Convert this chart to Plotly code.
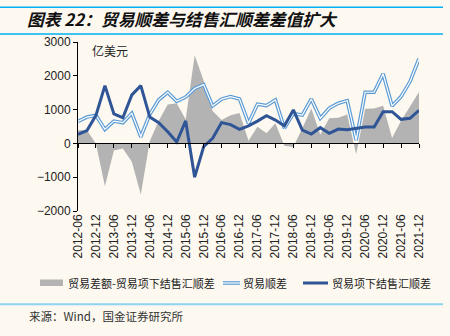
import plotly.graph_objects as go

# Quarter-end periods, 2012-06 .. 2021-12
quarters = [
    "2012-06", "2012-09", "2012-12", "2013-03", "2013-06", "2013-09", "2013-12", "2014-03",
    "2014-06", "2014-09", "2014-12", "2015-03", "2015-06", "2015-09", "2015-12", "2016-03",
    "2016-06", "2016-09", "2016-12", "2017-03", "2017-06", "2017-09", "2017-12", "2018-03",
    "2018-06", "2018-09", "2018-12", "2019-03", "2019-06", "2019-09", "2019-12", "2020-03",
    "2020-06", "2020-09", "2020-12", "2021-03", "2021-06", "2021-09", "2021-12",
]

# 贸易顺差 (亿美元)
trade_surplus = [
    650, 780, 830, 415, 660, 612, 890, 196, 860, 1290,
    1510, 1245, 1370, 1625, 1740, 1108, 1310, 1384, 1316, 594,
    1158, 1118, 1286, 445, 880, 840, 1316, 742, 1040, 1188,
    1265, 98, 1514, 1514, 2058, 1108, 1384, 1830, 2504,
]

# 贸易项下结售汇顺差 (亿美元)
fx_surplus = [
    270, 380, 830, 1710, 870, 760, 1435, 1710, 780, 610,
    345, 40, 665, -1000, -100, 150, 615, 555, 415, 517,
    660, 820, 690, 520, 990, 395, 276, 465, 297, 425,
    405, 435, 485, 485, 940, 940, 712, 742, 980,
]

# 贸易差额-贸易项下结售汇顺差 (亿美元)
gap = [
    390, 390, -10, -1270, -210, -150, -545, -1515, 70, 670,
    1150, 1190, 705, 2610, 1850, 960, 695, 830, 900, 75,
    495, 300, 595, -70, -110, 445, 1030, 265, 743, 760,
    855, -320, 1025, 1030, 1115, 160, 672, 1090, 1520,
]

series_names = ["贸易差额-贸易项下结售汇顺差", "贸易顺差", "贸易项下结售汇顺差"]
tick_labels = quarters[::2]
y_ticks = [-2000, -1000, 0, 1000, 2000, 3000]

idx = list(range(len(quarters)))
tick_idx = idx[::2]

W, H = 450, 336
ML, MR, MT, MB = 78, 31, 42, 125
PW, PH = W - ML - MR, H - MT - MB


def px(x):
    return (x - ML) / PW


def py(y):
    return (H - MB - y) / PH


BG = "#FDF9F0"
GRAY = "#B3B3B3"
LIGHT = "#5B9BD5"
DARK = "#2F5597"
LATIN = "Liberation Sans, Arial, Noto Sans CJK SC, sans-serif"
CJK = "Noto Sans CJK SC, Liberation Sans, sans-serif"

fig = go.Figure()

fig.add_trace(go.Scatter(
    x=idx, y=gap, mode="none", fill="tozeroy", fillcolor=GRAY,
    name=series_names[0], hoverinfo="skip",
))
fig.add_trace(go.Scatter(
    x=idx, y=trade_surplus, mode="lines", name=series_names[1],
    line=dict(color=LIGHT, width=3.6), hoverinfo="skip",
))
fig.add_trace(go.Scatter(
    x=idx, y=trade_surplus, mode="lines",
    line=dict(color="#FFFFFF", width=1.2), hoverinfo="skip",
))
fig.add_trace(go.Scatter(
    x=idx, y=fx_surplus, mode="lines", name=series_names[2],
    line=dict(color=DARK, width=3), hoverinfo="skip",
))
# carrier for the category axis drawn along y = 0
fig.add_trace(go.Scatter(
    x=[idx[0], idx[-1]], y=[0, 0], xaxis="x2", mode="lines",
    line=dict(width=0), opacity=0, hoverinfo="skip",
))

# legend row drawn below the axis labels
LEG_Y = 283
legend_shapes = [
    dict(type="rect", xref="paper", yref="paper", x0=px(40), x1=px(63),
         y0=py(286), y1=py(279.5), fillcolor=GRAY, line=dict(width=0)),
    dict(type="line", xref="paper", yref="paper", x0=px(223), x1=px(240),
         y0=py(LEG_Y), y1=py(LEG_Y), line=dict(color=LIGHT, width=3.6)),
    dict(type="line", xref="paper", yref="paper", x0=px(223), x1=px(240),
         y0=py(LEG_Y), y1=py(LEG_Y), line=dict(color="#FFFFFF", width=1.2)),
    dict(type="line", xref="paper", yref="paper", x0=px(303), x1=px(328),
         y0=py(LEG_Y), y1=py(LEG_Y), line=dict(color=DARK, width=3)),
]
legend_text = [
    dict(text=name, x=px(x0), y=py(LEG_Y), xref="paper", yref="paper",
         xanchor="left", yanchor="middle", showarrow=False,
         font=dict(family=CJK, size=11, color="#222222"))
    for name, x0 in zip(series_names, [66, 241, 330])
]

fig.update_layout(
    width=W, height=H,
    margin=dict(l=ML, r=MR, t=MT, b=MB),
    paper_bgcolor=BG, plot_bgcolor=BG,
    font=dict(family=LATIN, size=12, color="#222222"),
    showlegend=False,
    title=dict(
        text="图表 22：贸易顺差与结售汇顺差差值扩大",
        font=dict(family=CJK, size=16.8, color="#111111", weight="bold", style="italic"),
        xref="container", yref="container", x=27 / W, y=1 - 20.5 / H,
        xanchor="left", yanchor="middle",
    ),
    xaxis=dict(
        range=[idx[0], idx[-1]], tickmode="array", tickvals=tick_idx, ticktext=tick_labels,
        tickangle=-90, ticks="", showline=False, showgrid=False, zeroline=False,
        automargin=False,
        tickfont=dict(family=LATIN, size=12, color="#222222"),
    ),
    xaxis2=dict(
        overlaying="x", anchor="free", position=0.4,
        range=[idx[0], idx[-1]], tickmode="array", tickvals=tick_idx,
        showticklabels=False, ticks="outside", ticklen=4, tickcolor="#000000",
        showline=True, linecolor="#000000", linewidth=1, showgrid=False, zeroline=False,
        automargin=False,
    ),
    yaxis=dict(
        range=[y_ticks[0], y_ticks[-1]], tickmode="array", tickvals=y_ticks,
        ticks="outside", ticklen=4, tickcolor="#000000",
        showline=True, linecolor="#000000", linewidth=1,
        showgrid=False, zeroline=False, automargin=False,
        tickfont=dict(family=LATIN, size=12, color="#222222"),
    ),
    annotations=[
        dict(text="亿美元", x=px(90), y=py(50), xref="paper", yref="paper",
             xanchor="left", yanchor="middle", showarrow=False,
             font=dict(family=CJK, size=12, color="#222222")),
        dict(text="来源：Wind，国金证券研究所", x=px(27), y=py(316), xref="paper", yref="paper",
             xanchor="left", yanchor="middle", showarrow=False,
             font=dict(family=CJK, size=11.5, color="#333333")),
    ] + legend_text,
    shapes=[
        dict(type="line", xref="paper", yref="paper", x0=px(0), x1=px(443),
             y0=py(7.3), y1=py(7.3), line=dict(color="#00B0F0", width=1.5)),
        dict(type="line", xref="paper", yref="paper", x0=px(0), x1=px(443),
             y0=py(34), y1=py(34), line=dict(color="#00B0F0", width=1.5)),
        dict(type="line", xref="paper", yref="paper", x0=px(0), x1=px(443),
             y0=py(304.3), y1=py(304.3), line=dict(color="#8FD3F2", width=2)),
    ] + legend_shapes,
)

fig.write_html("out.html")
